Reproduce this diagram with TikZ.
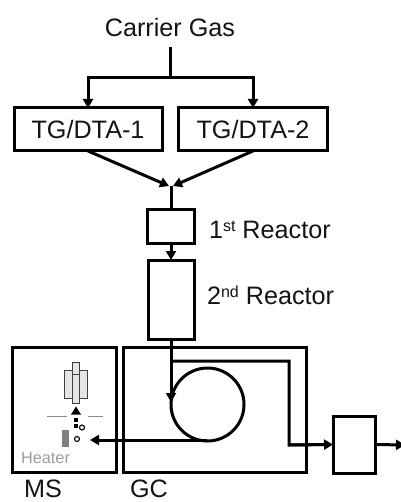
\documentclass[tikz,border=0pt]{standalone}
\usepackage{fontspec}
\setmainfont{Liberation Sans}
\usetikzlibrary{arrows.meta}
\definecolor{txt}{gray}{0.08}
\definecolor{hgray}{gray}{0.62}
\definecolor{fillg}{gray}{0.9}
\newcommand{\supr}[1]{\raisebox{7pt}{\fontsize{16}{18}\selectfont #1}}
\tikzset{
  x=1pt,y=-1pt,
  box/.style={draw=black,line width=3pt,inner sep=0pt,outer sep=0pt,fill=none},
  thin box/.style={draw=black!75,line width=1pt,fill=fillg,inner sep=0pt,outer sep=0pt},
  flow/.style={line width=3pt,draw=black,-{Triangle[width=10pt,length=9pt]}},
  pipe/.style={line width=3pt,draw=black},
  biglabel/.style={font=\fontsize{25.2}{28}\selectfont,text=txt,inner sep=0pt,outer sep=0pt},
  hair/.style={line width=1pt,draw=black!45},
  dot/.style={fill=black,inner sep=0pt,minimum size=4pt,draw=none},
  ring/.style={circle,draw=black,line width=1.1pt,inner sep=0pt,minimum size=5pt}
}
\begin{document}
\begin{tikzpicture}
\useasboundingbox (0,0) rectangle (400,502);
\fill[white] (0,0) rectangle (400,502);
% labels
\node[biglabel] (carrier) at (170,27) {Carrier Gas};
\node[biglabel,anchor=base west] (r1lab) at (209,238) {1\supr{st} Reactor};
\node[biglabel,anchor=base west] (r2lab) at (207,304) {2\supr{nd} Reactor};
\node[biglabel] (mslab) at (43,489) {MS};
\node[biglabel] (gclab) at (149,489) {GC};
% boxes
\node[box,minimum width=148pt,minimum height=43pt,biglabel] (tg1) at (88,129.5) {TG/DTA-1};
\node[box,minimum width=149pt,minimum height=43pt,biglabel] (tg2) at (253,129.5) {TG/DTA-2};
\node[box,minimum width=47pt,minimum height=33pt] (r1) at (171,226.5) {};
\node[box,minimum width=46pt,minimum height=79pt] (r2) at (171,299.5) {};
\node[box,minimum width=104pt,minimum height=125pt] (ms) at (64,409.5) {};
\node[box,minimum width=183pt,minimum height=125pt] (gc) at (214.5,409.5) {};
\node[box,minimum width=42pt,minimum height=57pt] (trap) at (354,444.5) {};
\node[circle,draw=black,line width=3pt,minimum size=73pt,inner sep=0pt,outer sep=0pt] (coil) at (207.5,404.5) {};
% carrier splitting
\coordinate (cgtop) at (170,47);
\coordinate (split) at (170,78);
\coordinate (sl) at (tg1.north |- split);
\coordinate (sr) at (tg2.north |- split);
\draw[pipe] (cgtop) -- (split);
\draw[pipe,line cap=rect] (sl) -- (sr);
\draw[flow] (sl) -- (tg1.north);
\draw[flow] (sr) -- (tg2.north);
% merge
\coordinate (ml) at (169,186);
\coordinate (mr) at (173,186);
\draw[flow] (tg1.south) -- (ml);
\draw[flow] (tg2.south) -- (mr);
\coordinate (mj) at (171,186);
\draw[pipe] (mj) -- (r1.north);
\draw[flow] (r1.south) -- (r2.north);
% GC column
\coordinate (cin) at (171,402);
\coordinate (ctop) at (171,361);
\coordinate (ccor) at (289,361);
\coordinate (cdown) at (289,445);
\coordinate (mstip) at (90,440);
\coordinate (cbot) at (207,440);
\draw[flow] (r2.south) -- (cin);
\draw[pipe,line cap=butt,line join=miter] (ctop) -- (ccor) -- (cdown) -- ([xshift=-10pt]trap.west);
\draw[flow] (cdown) -- (trap.west);
\coordinate (out) at (405,445);
\draw[flow] (trap.east) -- (out);
\draw[flow] (cbot) -- (mstip);
% MS internals
\node[thin box,minimum width=7.5pt,minimum height=28pt,anchor=north east] (ql) at (72.3,370) {};
\node[thin box,minimum width=7.5pt,minimum height=28pt,anchor=north west] (qr) at (79.7,370) {};
\node[thin box,minimum width=7pt,minimum height=41pt,anchor=north] (qm) at (76,362) {};
\node[thin box,minimum width=7pt,minimum height=29pt,anchor=north] (qm2) at (76,374) {};
\coordinate (sl1) at (47,416);
\coordinate (sl2) at (67,416);
\coordinate (sr1) at (88,416);
\coordinate (sr2) at (103,416);
\draw[hair] (sl1) -- (sl2);
\draw[hair] (sr1) -- (sr2);
\fill[black] (71,414.5) -- (76,406.5) -- (81,414.5) -- cycle;
\node[dot] (d1) at (76,419.5) {};
\node[dot] (d2) at (76,426) {};
\node[ring] (o1) at (82,427.5) {};
\node[ring] (o2) at (77,439) {};
\node[fill=black!50,draw=none,minimum width=7.5pt,minimum height=17pt,inner sep=0pt] (heater) at (65.5,438.5) {};
\node[font=\fontsize{16.3}{18}\selectfont,text=hgray,inner sep=0pt] (heatlab) at (45.5,458) {Heater};
\end{tikzpicture}
\end{document}
